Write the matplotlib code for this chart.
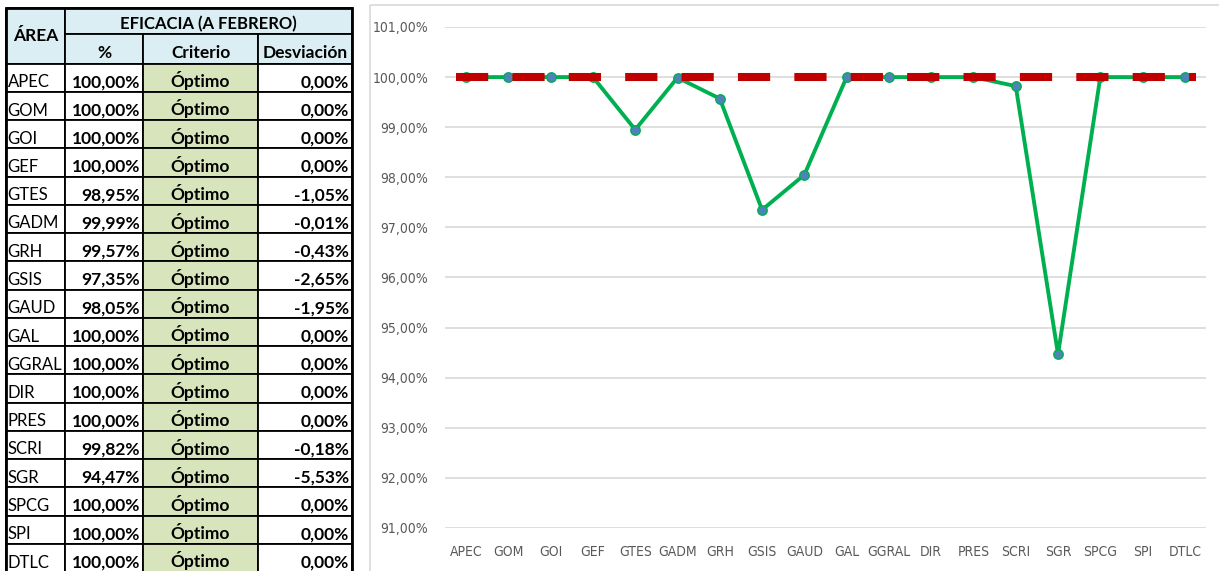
import matplotlib
matplotlib.use('Agg')
import matplotlib.pyplot as plt
from matplotlib.patches import Rectangle
import numpy as np

# datos
areas = ['APEC', 'GOM', 'GOI', 'GEF', 'GTES', 'GADM', 'GRH', 'GSIS', 'GAUD',
         'GAL', 'GGRAL', 'DIR', 'PRES', 'SCRI', 'SGR', 'SPCG', 'SPI', 'DTLC']
eficacia = [100.00, 100.00, 100.00, 100.00, 98.95, 99.99, 99.57, 97.35, 98.05,
            100.00, 100.00, 100.00, 100.00, 99.82, 94.47, 100.00, 100.00, 100.00]
criterio = ['Óptimo'] * 18
desviacion = [0.00, 0.00, 0.00, 0.00, -1.05, -0.01, -0.43, -2.65, -1.95,
              0.00, 0.00, 0.00, 0.00, -0.18, -5.53, 0.00, 0.00, 0.00]
meta = [100.00] * 18


def pct(v):
    return ('%.2f' % v).replace('.', ',') + '%'


W, H = 1219, 571
fig = plt.figure(figsize=(W / 100, H / 100), dpi=100)
fig.patch.set_facecolor('white')

# ---- tabla (coordenadas en pixeles) ----
tab = fig.add_axes([0, 0, 1, 1])
tab.set_xlim(0, W)
tab.set_ylim(H, 0)
tab.axis('off')

cols = [6, 65, 143, 258, 352]
y_top, y_mid, y_data = 8, 34, 63.5
row_h = 28.25
blue = '#DAEEF3'
green = '#D8E4BC'
tfont = ['Lato', 'DejaVu Sans']
fs = 12.5


def cell(x0, x1, y0, y1, color):
    tab.add_patch(Rectangle((x0, y0), x1 - x0, y1 - y0, facecolor=color,
                            edgecolor='black', lw=1.3, zorder=1))


# cabecera
cell(cols[0], cols[1], y_top, y_data, blue)
tab.text((cols[0] + cols[1]) / 2, (y_top + y_data) / 2, 'ÁREA', ha='center',
         va='center', fontsize=fs, fontweight='bold', family=tfont)
cell(cols[1], cols[4], y_top, y_mid, blue)
tab.text((cols[1] + cols[4]) / 2, y_mid - 5, 'EFICACIA (A FEBRERO)',
         ha='center', va='baseline', fontsize=fs - 0.5, fontweight='bold', family=tfont)
for j, lab in enumerate(['%', 'Criterio', 'Desviación']):
    cell(cols[j + 1], cols[j + 2], y_mid, y_data, blue)
    tab.text((cols[j + 1] + cols[j + 2]) / 2, y_data - 6, lab,
             ha='center', va='baseline', fontsize=fs, fontweight='bold', family=tfont)

# filas (texto alineado abajo, como en Excel)
for i, a in enumerate(areas):
    y0 = y_data + i * row_h
    y1 = y0 + row_h
    yb = y1 - 4.5
    cell(cols[0], cols[1], y0, y1, 'white')
    cell(cols[1], cols[2], y0, y1, 'white')
    cell(cols[2], cols[3], y0, y1, green)
    cell(cols[3], cols[4], y0, y1, 'white')
    tab.text(cols[0] + 1.5, yb, a, ha='left', va='baseline', fontsize=12, family=tfont)
    tab.text(cols[2] - 3, yb, pct(eficacia[i]), ha='right', va='baseline',
             fontsize=fs, fontweight='bold', family=tfont)
    tab.text((cols[2] + cols[3]) / 2, yb, criterio[i], ha='center', va='baseline',
             fontsize=fs, fontweight='bold', family=tfont)
    tab.text(cols[4] - 3, yb, pct(desviacion[i]), ha='right', va='baseline',
             fontsize=fs, fontweight='bold', family=tfont)

tab.add_patch(Rectangle((cols[0], y_top), cols[4] - cols[0], H + 20 - y_top,
                        fill=False, edgecolor='black', lw=2, zorder=3))

# marco del grafico
tab.add_patch(Rectangle((370, 5), W + 20 - 370, H + 20, fill=False,
                        edgecolor='#D9D9D9', lw=1.2, zorder=0))

# ---- grafico ----
px0, px1 = 445, 1206
py_top, py_bot = 27, 528
ax = fig.add_axes([px0 / W, (H - py_bot) / H, (px1 - px0) / W, (py_bot - py_top) / H])
ax.set_facecolor('none')
n = len(areas)
x = np.arange(n)
ax.set_xlim(-0.5, n - 0.5)
ax.set_ylim(91, 101)

ax.plot(x, eficacia, color='#00B050', lw=2.8, marker='o', markersize=6.8,
        markerfacecolor='#4F81BD', markeredgecolor='#00B050', markeredgewidth=1,
        zorder=3, clip_on=False)
xm = np.linspace(-0.25, n - 0.74, n)
ax.plot(xm, meta, color='#C00000', lw=5.8, dashes=(4, 3), solid_capstyle='butt',
        dash_capstyle='butt', zorder=4, clip_on=False)

ax.set_yticks(np.arange(91, 102, 1))
ax.set_yticklabels([pct(v) for v in np.arange(91, 102, 1)])
ax.set_xticks(x)
ax.set_xticklabels(areas)
ax.grid(axis='y', color='#D9D9D9', lw=1.2)
ax.set_axisbelow(True)
for s in ax.spines.values():
    s.set_visible(False)
ax.tick_params(length=0, colors='#595959')
ax.tick_params(axis='y', pad=12)
ax.tick_params(axis='x', pad=12)
for lab in ax.get_xticklabels() + ax.get_yticklabels():
    lab.set_family(['DejaVu Sans'])
    lab.set_fontstretch('condensed')
    lab.set_fontsize(10)

fig.savefig('out.png', dpi=100)
